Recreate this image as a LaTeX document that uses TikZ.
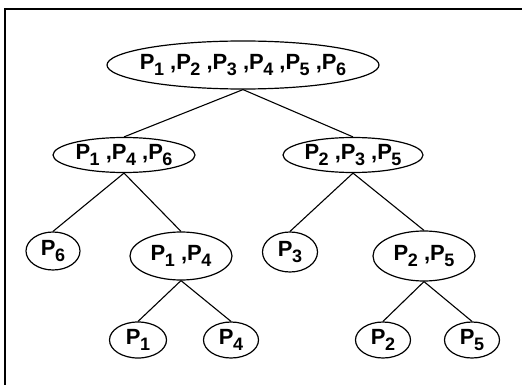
\documentclass[tikz,border=0pt]{standalone}
\usepackage{fontspec}
\setmainfont{Liberation Sans}
\usetikzlibrary{shapes.geometric}
% lowered index after a P
\newcommand\idx[1]{\kern-0.5pt\raisebox{-6pt}{\fontsize{18}{18}\selectfont #1}}
% label of zero width, so the ellipse keeps its given size
\newcommand\lbl[1]{\makebox[0pt]{#1}}
\begin{document}
\begin{tikzpicture}[x=1pt,y=-1pt,
  setnode/.style={ellipse,draw,line width=1.2pt,inner sep=0pt,
    font=\fontsize{22}{24}\selectfont\bfseries},
  link/.style={line width=1.1pt}]
\useasboundingbox (0,0) rectangle (522,385);
% frame on the top and left sides
\draw[line width=1.4pt] (522,9) -- (5,9) -- (5,385);
% level 1
\node[setnode,minimum width=272pt,minimum height=48pt] (r) at (243,65)
  {\lbl{P\idx{1} ,P\idx{2} ,P\idx{3} ,P\idx{4} ,P\idx{5} ,P\idx{6}}};
% level 2
\node[setnode,minimum width=142pt,minimum height=35pt] (a) at (124,155)
  {\lbl{P\idx{1} ,P\idx{4} ,P\idx{6}}};
\node[setnode,minimum width=140pt,minimum height=35pt] (b) at (353,155)
  {\lbl{P\idx{2} ,P\idx{3} ,P\idx{5}}};
% level 3
\node[setnode,minimum width=54pt,minimum height=38pt] (a1) at (53,251) {\lbl{P\idx{6}}};
\node[setnode,minimum width=102pt,minimum height=48pt] (a2) at (181,256) {\lbl{P\idx{1} ,P\idx{4}}};
\node[setnode,minimum width=55pt,minimum height=40pt] (b1) at (290,252) {\lbl{P\idx{3}}};
\node[setnode,minimum width=102pt,minimum height=50pt] (b2) at (424,256) {\lbl{P\idx{2} ,P\idx{5}}};
% level 4
\node[setnode,minimum width=57pt,minimum height=36pt] (a21) at (138,340) {\lbl{P\idx{1}}};
\node[setnode,minimum width=55pt,minimum height=36pt] (a22) at (231,340) {\lbl{P\idx{4}}};
\node[setnode,minimum width=55pt,minimum height=36pt] (b21) at (383,340) {\lbl{P\idx{2}}};
\node[setnode,minimum width=55pt,minimum height=36pt] (b22) at (472,340) {\lbl{P\idx{5}}};
% edges
\draw[link] (r.south) -- (a.north);
\draw[link] (r.south) -- (b.north);
\draw[link] (a.south) -- (a1.north);
\draw[link] (a.south) -- (a2.north);
\draw[link] (b.south) -- (b1.north);
\draw[link] (b.south) -- (b2.north);
\draw[link] (a2.south) -- (a21.north);
\draw[link] (a2.south) -- (a22.north);
\draw[link] (b2.south) -- (b21.north);
\draw[link] (b2.south) -- (b22.north);
\end{tikzpicture}
\end{document}
